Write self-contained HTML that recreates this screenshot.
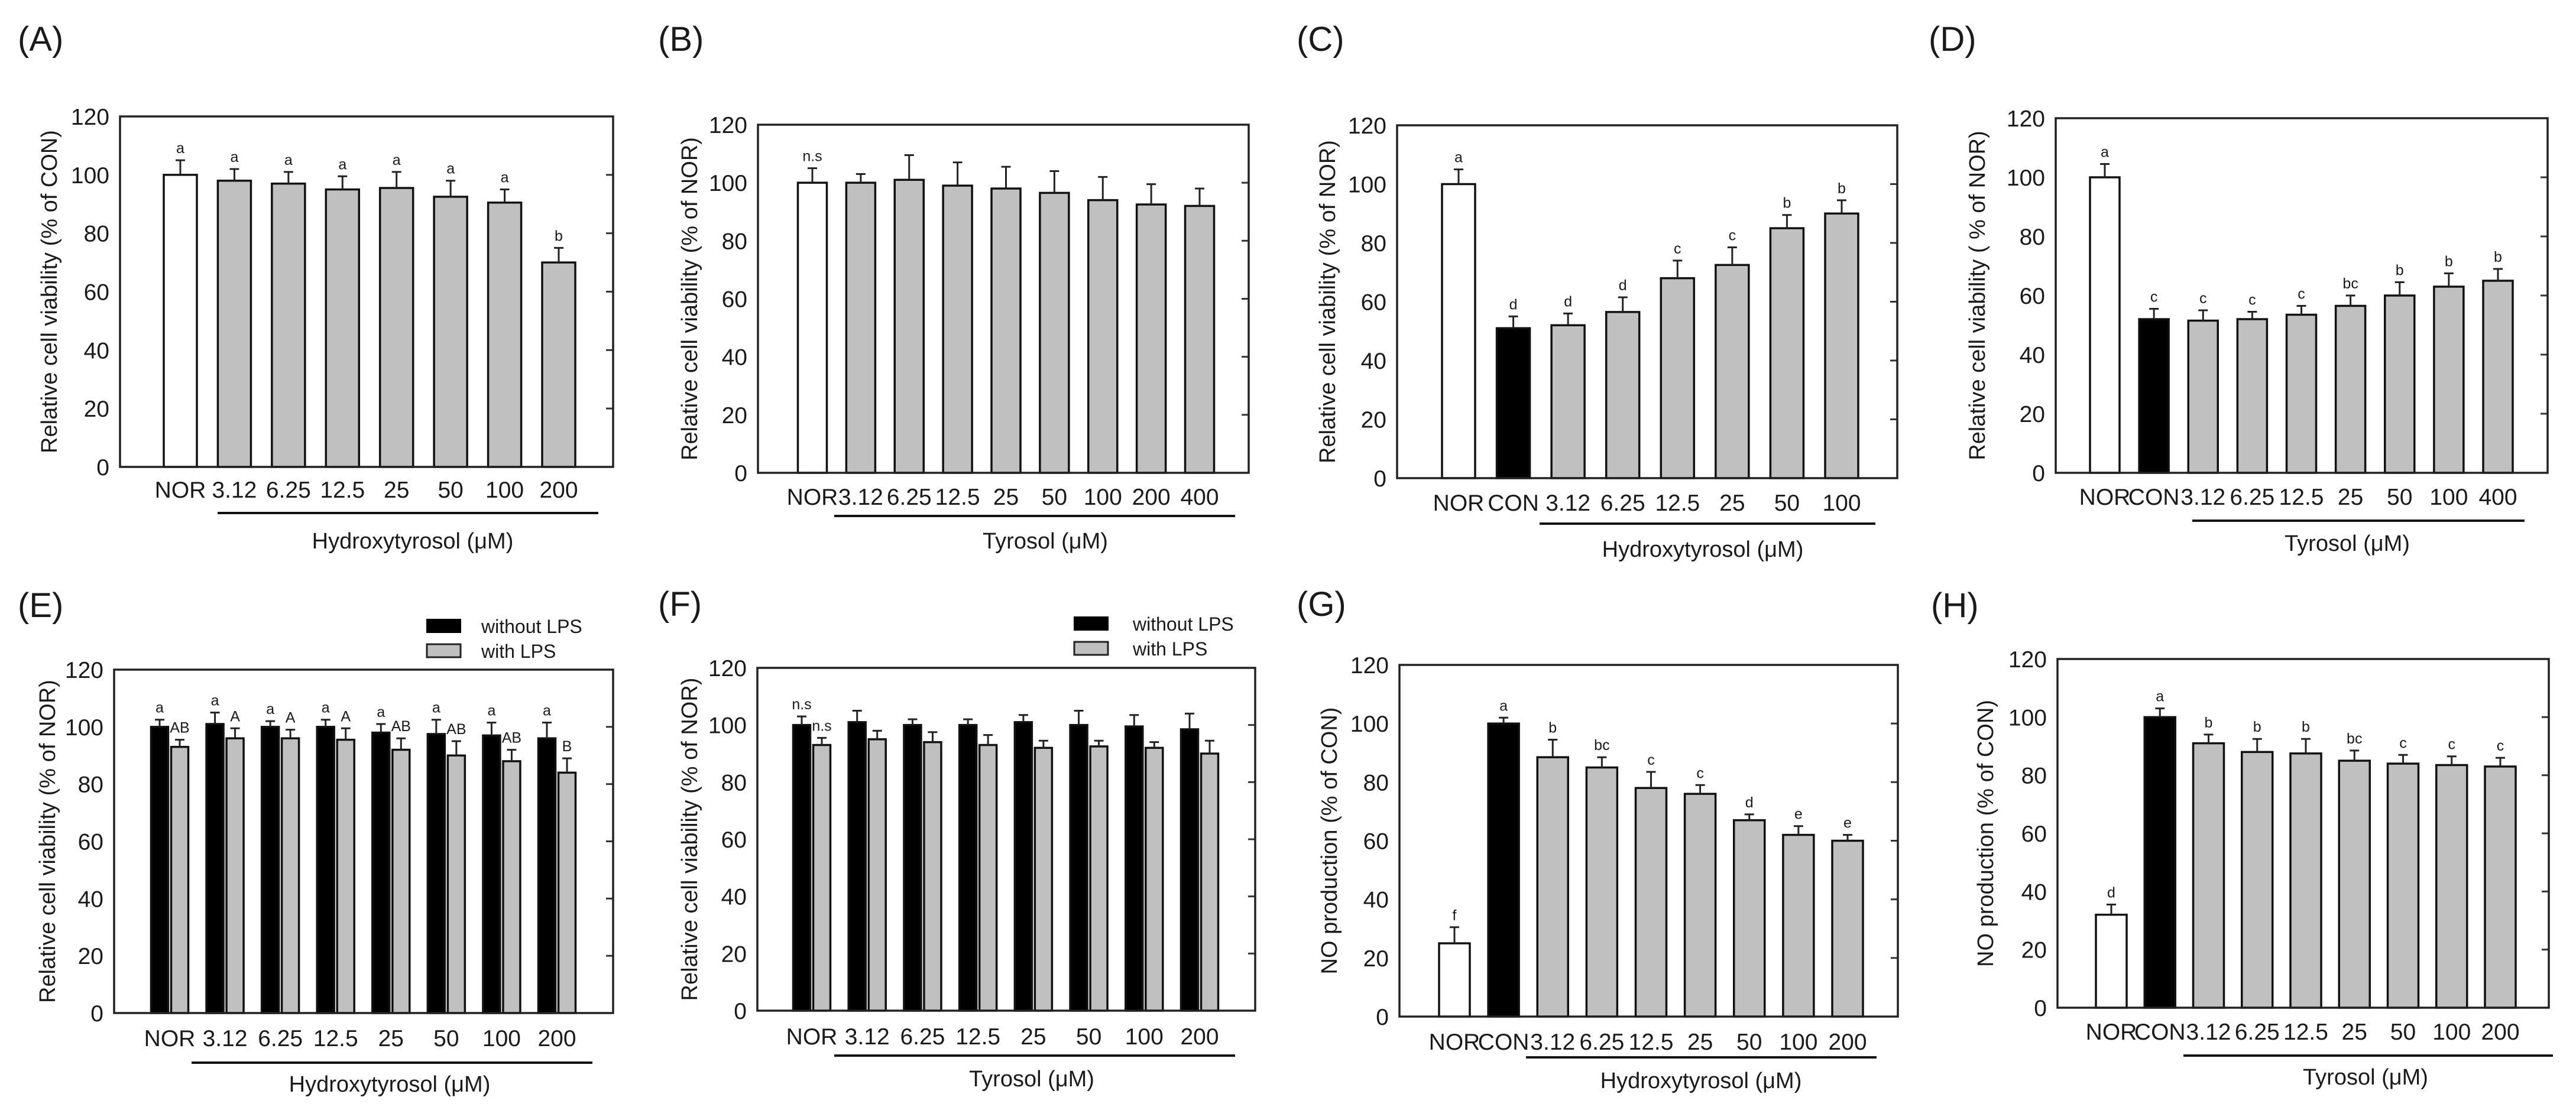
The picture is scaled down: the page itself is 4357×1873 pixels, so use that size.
<!DOCTYPE html>
<html><head><meta charset="utf-8"><style>
html,body{margin:0;padding:0;background:#fff;}
svg{display:block;font-family:"Liberation Sans",Arial,sans-serif;}
</style></head><body>
<svg id="fig" width="4357" height="1873" viewBox="0 0 4357 1873" xmlns="http://www.w3.org/2000/svg"></svg>
<script>
// ---- data ----
const catsA = ["NOR","3.12","6.25","12.5","25","50","100","200"];
const valsA = [100,98,97,95,95.5,92.5,90.5,70];
const errsA = [5,4,4,4.5,5.5,5.5,4.5,5];
const letsA = ["a","a","a","a","a","a","a","b"];

const catsB = ["NOR","3.12","6.25","12.5","25","50","100","200","400"];
const valsB = [100,100,101,99,98,96.5,94,92.5,92];
const errsB = [5,3,8.5,8,7.5,7.5,8,7,6];
const letsB = ["n.s","","","","","","","",""];

const catsC = ["NOR","CON","3.12","6.25","12.5","25","50","100"];
const valsC = [100,51,52,56.5,68,72.5,85,90];
const errsC = [5,4,4,5,6,6,4.5,4.5];
const letsC = ["a","d","d","d","c","c","b","b"];

const catsD = ["NOR","CON","3.12","6.25","12.5","25","50","100","400"];
const valsD = [100,52,51.5,52,53.5,56.5,60,63,65];
const errsD = [4.5,3.5,3.5,2.5,3,3.5,4.5,4.5,4];
const letsD = ["a","c","c","c","c","bc","b","b","b"];

const catsE = ["NOR","3.12","6.25","12.5","25","50","100","200"];
const valsE1 = [100,101,100,100,98,97.5,97,96];
const errsE1 = [2.5,4,2,2.5,3,5,4.5,5.5];
const letsE1 = ["a","a","a","a","a","a","a","a"];
const valsE2 = [93,96,96,95.5,92,90,88,84];
const errsE2 = [2.5,3.5,3,4,4,5,4,5];
const letsE2 = ["AB","A","A","A","AB","AB","AB","B"];

const catsF = ["NOR","3.12","6.25","12.5","25","50","100","200"];
const valsF1 = [100,101,100,100,101,100,99.5,98.5];
const errsF1 = [3,4,2,2,2.5,5,4,5.5];
const letsF1 = ["n.s","","","","","","",""];
const valsF2 = [93,95,94,93,92,92.5,92,90];
const errsF2 = [2.5,3,3.5,3.5,2.5,2,2,4.5];
const letsF2 = ["n.s","","","","","","",""];

const catsG = ["NOR","CON","3.12","6.25","12.5","25","50","100","200"];
const valsG = [25,100,88.5,85,78,76,67,62,60];
const errsG = [5.5,2,6,3.5,5.5,3,2,3,2];
const letsG = ["f","a","b","bc","c","c","d","e","e"];

const catsH = ["NOR","CON","3.12","6.25","12.5","25","50","100","200"];
const valsH = [32,100,91,88,87.5,85,84,83.5,83];
const errsH = [3.5,3,3,4.5,5,3.5,3,3,3];
const letsH = ["d","a","b","b","b","bc","c","c","c"];

const yTicks = [0,20,40,60,80,100,120];

// ---- drawing ----
const NS="http://www.w3.org/2000/svg";
const svg=document.getElementById('fig');
function mk(tag,attrs,parent){const e=document.createElementNS(NS,tag);for(const k in attrs)e.setAttribute(k,attrs[k]);(parent||svg).appendChild(e);return e;}
function txt(s,x,y,size,parent,anchor,extra){const t=mk('text',Object.assign({x:x,y:y,'font-size':size,'text-anchor':anchor||'middle',fill:'#1a1a1a'},extra||{}),parent);t.textContent=s;return t;}

function panel(o){
  const g=mk('g',{});
  
  
  const L=o.box[0],R=o.box[1],T=o.box[2],B=o.box[3];
  const y=v=>B-(v/120)*(B-T);
  const lab=txt('('+o.id+')',o.lab[0],o.lab[1],58,g,'start');
  
  
  yTicks.forEach(t=>{
    const tl=txt(String(t),L-18,y(t)+14,39,g,'end');
    
    
    mk('line',{x1:R-12,x2:R,y1:y(t),y2:y(t),stroke:'#333','stroke-width':3},g);
  });
  const yt=txt(o.ytitle,0,0,38,g,'middle',{transform:`translate(${o.yx},${(T+B)/2}) rotate(-90)`});
  
  
  const n=o.cats.length;
  const xc=i=>o.x0+i*(o.x1-o.x0)/(n-1);
  function bar(cx,v,e,l,fill,w,name){
    const r=mk('rect',{x:cx-w/2,y:y(v),width:w,height:B-y(v),fill:fill,stroke:'#111','stroke-width':3.5},g);
    
    
    const top=y(v+e);
    mk('line',{x1:cx,x2:cx,y1:y(v),y2:top,stroke:'#222','stroke-width':3},g);
    mk('line',{x1:cx-8,x2:cx+8,y1:top,y2:top,stroke:'#222','stroke-width':3},g);
    if(l){const lt=txt(l,cx,top-12,25,g);
      
      }
  }
  for(let i=0;i<n;i++){
    if(o.grouped){
      bar(xc(i)-o.off,o.v1[i],o.e1[i],o.l1[i],'#000',o.bw,'bar-without-lps');
      bar(xc(i)+o.off,o.v2[i],o.e2[i],o.l2[i],'#c0c0c0',o.bw,'bar-with-lps');
    } else {
      const c=o.cats[i];
      const fill=c==='NOR'?'#fff':(c==='CON'?'#000':'#c0c0c0');
      bar(xc(i),o.vals[i],o.errs[i],o.lets[i],fill,o.bw,'bar-'+c);
    }
    const xl=txt(o.cats[i],xc(i),o.xly+2,39,g,'middle');
    
    
  }
  mk('rect',{x:L,y:T,width:R-L,height:B-T,fill:'none',stroke:'#222','stroke-width':3.5},g);
  const ul=mk('line',{x1:o.ul[0],x2:o.ul[1],y1:o.ul[2],y2:o.ul[2],stroke:'#111','stroke-width':4},g);
  
  
  const tt=txt(o.xtitle,o.xt[0],o.xt[1]+2,38,g);
  
  
  if(o.legend){
    const [lx,ly,tx]=o.legend;
    const lg=mk('g',{},g);
    
    
    mk('rect',{x:lx,y:ly-11,width:57,height:22,fill:'#000',stroke:'#000','stroke-width':2},lg);
    mk('rect',{x:lx,y:ly+31,width:57,height:22,fill:'#c0c0c0',stroke:'#222','stroke-width':3},lg);
    const e1=txt('without LPS',tx,ly+12,32,lg,'start');
    
    
    const e2=txt('with LPS',tx,ly+54,32,lg,'start');
    
    
  }
}

const yCV='Relative cell viability (% of NOR)';
panel({id:'A',lab:[30,86],box:[203,1037,197,790],cats:catsA,vals:valsA,errs:errsA,lets:letsA,x0:305,x1:945,bw:56,xly:840,ul:[368,1012,868],xtitle:'Hydroxytyrosol  (μM)',xt:[698,926],yx:84+12,ytitle:'Relative cell viability (% of CON)'});
panel({id:'B',lab:[1113,86],box:[1282,2112,211,800],cats:catsB,vals:valsB,errs:errsB,lets:letsB,x0:1374,x1:2029,bw:49,xly:852,ul:[1411,2089,873],xtitle:'Tyrosol  (μM)',xt:[1768,926],yx:1167+12,ytitle:yCV});
panel({id:'C',lab:[2193,86],box:[2363,3209,212,809],cats:catsC,vals:valsC,errs:errsC,lets:letsC,x0:2467,x1:3115,bw:56,xly:862,ul:[2604,3172,886],xtitle:'Hydroxytyrosol  (μM)',xt:[2880,940],yx:2246+12,ytitle:yCV});
panel({id:'D',lab:[3262,86],box:[3477,4309,200,800],cats:catsD,vals:valsD,errs:errsD,lets:letsD,x0:3560,x1:4225,bw:50,xly:852,ul:[3708,4270,881],xtitle:'Tyrosol  (μM)',xt:[3970,930],yx:3345+12,ytitle:'Relative cell viability ( % of NOR)'});
panel({id:'E',lab:[30,1044],box:[193,1037,1133,1714],cats:catsE,grouped:true,v1:valsE1,e1:errsE1,l1:letsE1,v2:valsE2,e2:errsE2,l2:letsE2,x0:287,x1:942,off:17,bw:29,xly:1768,ul:[324,1002,1798],xtitle:'Hydroxytyrosol  (μM)',xt:[659,1845],yx:81+12,ytitle:yCV,legend:[722,1059,814]});
panel({id:'F',lab:[1113,1042],box:[1281,2123,1130,1710],cats:catsF,grouped:true,v1:valsF1,e1:errsF1,l1:letsF1,v2:valsF2,e2:errsF2,l2:letsF2,x0:1373,x1:2029,off:17,bw:29,xly:1765,ul:[1411,2089,1786],xtitle:'Tyrosol  (μM)',xt:[1745,1836],yx:1167+12,ytitle:yCV,legend:[1817,1055,1916]});
panel({id:'G',lab:[2193,1042],box:[2367,3210,1125,1720],cats:catsG,vals:valsG,errs:errsG,lets:letsG,x0:2460,x1:3125,bw:52,xly:1774,ul:[2581,3174,1789],xtitle:'Hydroxytyrosol  (μM)',xt:[2877,1839],yx:2249+12,ytitle:'NO production (% of CON)'});
panel({id:'H',lab:[3266,1044],box:[3480,4311,1115,1705],cats:catsH,vals:valsH,errs:errsH,lets:letsH,x0:3571,x1:4229,bw:52,xly:1757,ul:[3693,4318,1786],xtitle:'Tyrosol  (μM)',xt:[4001,1833],yx:3359+12,ytitle:'NO production (% of CON)'});
</script>
</body></html>
